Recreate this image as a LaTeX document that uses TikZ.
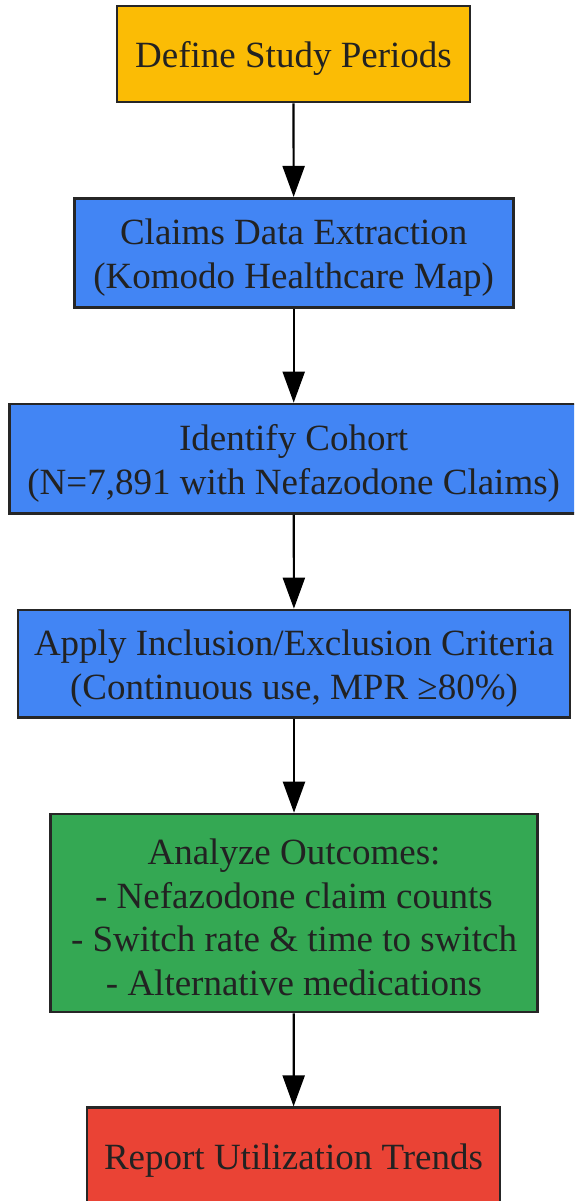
\documentclass[tikz,border=0pt]{standalone}
\usepackage{fontspec}
\setmainfont{Liberation Serif}
\usetikzlibrary{arrows.meta}
\definecolor{cyellow}{HTML}{FBBC05}
\definecolor{cblue}{HTML}{4285F4}
\definecolor{cgreen}{HTML}{34A853}
\definecolor{cred}{HTML}{EA4335}
\definecolor{cborder}{HTML}{262626}
\definecolor{ctext}{HTML}{222222}
\tikzset{
  stepbox/.style={draw=cborder, line width=2.6pt, rectangle, inner sep=0pt},
  steptext/.style={inner sep=0pt, align=center, text=ctext, yshift=-4.5pt,
    font=\fontsize{37}{43.6}\selectfont},
  flow/.style={line width=2.2pt, -{Triangle[length=31pt,width=22pt]}}
}
\begin{document}
\begin{tikzpicture}[x=1pt,y=-1pt]
\useasboundingbox (0,0) rectangle (574,1201);
\clip (0,0) rectangle (574,1201);
\node[stepbox, fill=cyellow, minimum width=353pt, minimum height=96pt,
  label={[steptext]center:Define Study Periods}] (n1) at (293.5,54) {};
\node[stepbox, fill=cblue, minimum width=439pt, minimum height=109.5pt,
  label={[steptext]center:Claims Data Extraction\\(Komodo Healthcare Map)}] (n2) at (293.7,253) {};
\node[stepbox, fill=cblue, minimum width=569pt, minimum height=109.5pt,
  label={[steptext]center:Identify Cohort\\(N=7,891 with Nefazodone Claims)}] (n3) at (293.7,458.7) {};
\node[stepbox, fill=cblue, minimum width=552pt, minimum height=107.7pt,
  label={[steptext]center:Apply Inclusion/Exclusion Criteria\\(Continuous use, MPR ≥80\%)}] (n4) at (294,663.8) {};
\node[stepbox, fill=cgreen, minimum width=487pt, minimum height=198pt,
  label={[steptext]center:Analyze Outcomes:\\- Nefazodone claim counts\\- Switch rate \& time to switch\\- Alternative medications}] (n5) at (294,913) {};
\node[stepbox, fill=cred, minimum width=413pt, minimum height=96pt,
  label={[steptext]center:Report Utilization Trends}] (n6) at (293.5,1155.7) {};
\draw[flow] (n1) -- (n2);
\draw[flow] (n2) -- (n3);
\draw[flow] (n3) -- (n4);
\draw[flow] (n4) -- (n5);
\draw[flow] (n5) -- (n6);
\end{tikzpicture}
\end{document}
